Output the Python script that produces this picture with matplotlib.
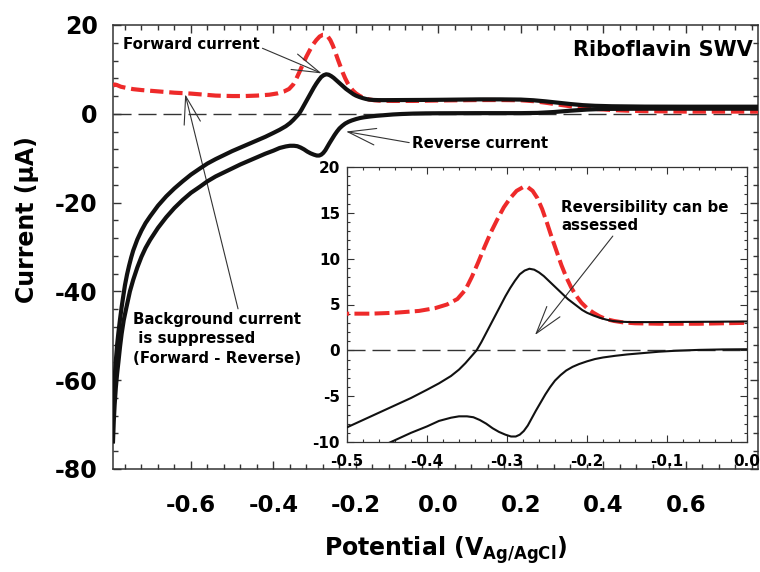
import matplotlib
matplotlib.use("Agg")
import matplotlib.pyplot as plt
from matplotlib.ticker import MultipleLocator, FormatStrFormatter

plt.rcParams['font.family'] = ['DejaVu Sans']
plt.rcParams['font.weight'] = 'bold'
plt.rcParams['axes.unicode_minus'] = False
plt.rcParams['mathtext.fontset'] = 'dejavusans'
plt.rcParams['mathtext.default'] = 'bf'

# ---- data (potential in V vs Ag/AgCl, current in uA) ----
fwd_x = [-0.789, -0.787, -0.785, -0.782, -0.779, -0.776, -0.772, -0.768, -0.764, -0.760,
         -0.755, -0.750, -0.745, -0.740, -0.730, -0.720, -0.710, -0.699, -0.680, -0.660,
         -0.640, -0.620, -0.600, -0.578, -0.560, -0.540, -0.520,
         -0.500, -0.480, -0.460, -0.440, -0.420, -0.400, -0.385, -0.370, -0.360, -0.352,
         -0.345, -0.338, -0.332, -0.326, -0.320, -0.314, -0.308, -0.302, -0.296, -0.290,
         -0.284, -0.278, -0.272, -0.266, -0.260, -0.254, -0.248, -0.242, -0.236, -0.230,
         -0.224, -0.218, -0.212, -0.206, -0.200, -0.192, -0.184, -0.176, -0.168, -0.158,
         -0.145, -0.120, -0.080, -0.040, 0.000, 0.050, 0.100, 0.150, 0.200, 0.230,
         0.260, 0.290, 0.320, 0.350, 0.380, 0.420, 0.500, 0.600, 0.780]
fwd_y = [-67.5, -63.0, -59.5, -55.5, -52.0, -49.4, -46.3, -43.5, -41.0, -38.6,
         -36.2, -34.2, -32.4, -30.8, -28.3, -26.3, -24.6, -23.1, -20.7, -18.6,
         -16.8, -15.2, -13.7, -12.3, -11.2, -10.2, -9.3,
         -8.4, -7.6, -6.8, -6.0, -5.2, -4.3, -3.6, -2.8, -2.1, -1.4,
         -0.7, 0.0, 0.9, 1.9, 2.9, 3.9, 4.9, 5.9, 6.8, 7.6,
         8.3, 8.7, 8.9, 8.8, 8.5, 8.1, 7.6, 7.1, 6.6, 6.1,
         5.6, 5.2, 4.8, 4.4, 4.1, 3.8, 3.55, 3.35, 3.2, 3.12,
         3.08, 3.08, 3.1, 3.12, 3.15, 3.2, 3.25, 3.25, 3.2, 3.05,
         2.8, 2.5, 2.2, 1.95, 1.8, 1.7, 1.62, 1.6, 1.6]

rev_x = [-0.789, -0.787, -0.785, -0.782, -0.779, -0.776, -0.772, -0.768, -0.763, -0.756,
         -0.748, -0.740, -0.730, -0.720, -0.710, -0.699, -0.680, -0.660, -0.640, -0.620,
         -0.600, -0.578, -0.560, -0.540, -0.520,
         -0.500, -0.480, -0.460, -0.440, -0.420, -0.400, -0.385, -0.370, -0.360, -0.350,
         -0.342, -0.334, -0.326, -0.318, -0.310, -0.302, -0.295, -0.289, -0.284, -0.279,
         -0.274, -0.269, -0.264, -0.258, -0.252, -0.246, -0.240, -0.233, -0.226, -0.218,
         -0.210, -0.200, -0.190, -0.180, -0.165, -0.150, -0.130, -0.110, -0.090, -0.060,
         -0.030, 0.000, 0.100, 0.200, 0.240, 0.280, 0.320, 0.360, 0.400, 0.500, 0.780]
rev_y = [-73.8, -69.0, -65.5, -61.5, -58.5, -56.0, -52.5, -49.5, -46.5, -43.4,
         -40.0, -37.4, -34.6, -32.2, -30.2, -28.4, -25.7, -23.3, -21.2, -19.4,
         -17.8, -16.4, -15.2, -14.1, -13.2,
         -12.3, -11.4, -10.6, -9.8, -9.0, -8.3, -7.7, -7.35, -7.2, -7.2,
         -7.3, -7.6, -8.0, -8.5, -8.9, -9.2, -9.4, -9.4, -9.2, -8.8,
         -8.2, -7.4, -6.6, -5.7, -4.8, -4.0, -3.3, -2.7, -2.2, -1.8,
         -1.5, -1.2, -0.95, -0.78, -0.6, -0.45, -0.3, -0.15, -0.05, 0.05,
         0.1, 0.12, 0.15, 0.15, 0.2, 0.4, 0.7, 0.95, 1.1, 1.15, 1.15]

net_x = [-0.789, -0.785, -0.780, -0.770, -0.755, -0.740, -0.720, -0.700, -0.680, -0.660,
         -0.640, -0.619, -0.600, -0.580, -0.560, -0.540, -0.520,
         -0.500, -0.470, -0.440, -0.410, -0.390, -0.375, -0.362, -0.352, -0.344, -0.336,
         -0.328, -0.320, -0.312, -0.304, -0.296, -0.288, -0.280, -0.274, -0.268, -0.262,
         -0.256, -0.250, -0.244, -0.238, -0.232, -0.226, -0.220, -0.214, -0.207, -0.200,
         -0.192, -0.184, -0.176, -0.166, -0.155, -0.140, -0.110, -0.060, 0.000, 0.050,
         0.100, 0.150, 0.200, 0.230, 0.260, 0.290, 0.320, 0.350, 0.380, 0.420,
         0.460, 0.500, 0.600, 0.780]
net_y = [6.3, 6.6, 6.5, 6.1, 5.8, 5.55, 5.35, 5.2, 5.05, 4.9,
         4.75, 4.65, 4.55, 4.4, 4.25, 4.1, 4.05,
         4.0, 4.0, 4.1, 4.3, 4.6, 5.0, 5.6, 6.6, 8.0, 9.6,
         11.3, 12.9, 14.3, 15.6, 16.6, 17.4, 17.8, 17.8, 17.4, 16.6,
         15.4, 13.9, 12.3, 10.8, 9.3, 8.0, 6.9, 6.0, 5.2, 4.6,
         4.1, 3.7, 3.4, 3.2, 3.05, 2.95, 2.9, 2.9, 3.0, 3.05,
         3.1, 3.1, 3.05, 2.85, 2.5, 2.1, 1.7, 1.35, 1.1, 0.85,
         0.7, 0.6, 0.5, 0.5]

main_xticks = [-0.6, -0.4, -0.2, 0.0, 0.2, 0.4, 0.6]
main_yticks = [-80, -60, -40, -20, 0, 20]
inset_xticks = [-0.5, -0.4, -0.3, -0.2, -0.1, 0.0]
inset_yticks = [-10, -5, 0, 5, 10, 15, 20]

BLACK = '#111111'
RED = '#EE2A2A'
GREY = '#333333'

fig = plt.figure(figsize=(7.6, 5.72), dpi=100)
ax = fig.add_axes([113/760, 1-469/572, 645/760, 444/572])

ax.axhline(0, color=GREY, lw=1.0, ls=(0, (13, 5)), zorder=1)
ax.plot(net_x, net_y, color=RED, lw=3.0, ls=(0, (3.2, 1.4)), zorder=3)
ax.plot(fwd_x, fwd_y, color=BLACK, lw=3.0, zorder=4, solid_joinstyle='round')
ax.plot(rev_x, rev_y, color=BLACK, lw=3.0, zorder=4, solid_joinstyle='round')

ax.set_xlim(-0.789, 0.775)
ax.set_ylim(-80, 20)
ax.set_xticks(main_xticks)
ax.set_yticks(main_yticks)
ax.xaxis.set_minor_locator(MultipleLocator(0.04))
ax.yaxis.set_minor_locator(MultipleLocator(4))
ax.xaxis.set_major_formatter(FormatStrFormatter('%.1f'))
ax.tick_params(which='both', direction='in', top=True, right=True, color=GREY, width=1.0)
ax.tick_params(which='major', length=6)
ax.tick_params(which='minor', length=3.5)
ax.tick_params(axis='x', which='major', labelsize=16.5, pad=18)
ax.tick_params(axis='y', which='major', labelsize=17, pad=11)
for s in ax.spines.values():
    s.set_linewidth(1.1)
    s.set_color(GREY)

ax.set_xlabel(r'Potential (V$_{Ag/AgCl}$)', fontsize=17, fontweight='bold')
ax.xaxis.set_label_coords(0.516, -0.148)
ax.xaxis.label.set_va('top')
ax.set_ylabel('Current (μA)', fontsize=17, fontweight='bold')
ax.yaxis.set_label_coords(-0.115, 0.561)

ax.text(0.763, 14.4, 'Riboflavin SWV', fontsize=15, fontweight='bold',
        ha='right', va='center')

arrow_kw = dict(arrowstyle='->,head_length=2.0,head_width=0.6', color=GREY, lw=0.8,
                mutation_scale=10, shrinkA=0, shrinkB=0)
ax.annotate('Forward current', xy=(-0.283, 9.1), xytext=(-0.765, 15.7),
            fontsize=10.8, fontweight='bold', ha='left', va='center',
            arrowprops=dict(arrow_kw, relpos=(1.0, 0.3)))
ax.annotate('Reverse current', xy=(-0.224, -4.0), xytext=(-0.064, -6.6),
            fontsize=10.8, fontweight='bold', ha='left', va='center',
            arrowprops=dict(arrow_kw, relpos=(0.0, 0.5)))
ax.annotate('Background current\n is suppressed\n(Forward - Reverse)',
            xy=(-0.614, 4.4), xytext=(-0.741, -50.7),
            fontsize=10.8, fontweight='bold', ha='left', va='center', linespacing=1.4,
            arrowprops=dict(arrow_kw, relpos=(0.63, 1.0)))

# ---- inset ----
ins = fig.add_axes([347/760, 1-442/572, 400/760, 275/572])
ins.axhline(0, color=GREY, lw=1.0, ls=(0, (13, 5)), zorder=1)
ins.plot(net_x, net_y, color=RED, lw=2.9, ls=(0, (3.7, 1.3)), zorder=3)
ins.plot(fwd_x, fwd_y, color=BLACK, lw=1.5, zorder=4, solid_joinstyle='round')
ins.plot(rev_x, rev_y, color=BLACK, lw=1.5, zorder=4, solid_joinstyle='round')
ins.set_xlim(-0.5, 0.0)
ins.set_ylim(-10, 20)
ins.set_xticks(inset_xticks)
ins.set_yticks(inset_yticks)
ins.xaxis.set_minor_locator(MultipleLocator(0.02))
ins.yaxis.set_minor_locator(MultipleLocator(1))
ins.xaxis.set_major_formatter(FormatStrFormatter('%.1f'))
ins.tick_params(which='both', direction='in', top=True, right=True, color=GREY, width=0.8)
ins.tick_params(which='major', length=5)
ins.tick_params(which='minor', length=2.5)
ins.tick_params(axis='x', which='major', labelsize=11, pad=9)
ins.tick_params(axis='y', which='major', labelsize=11, pad=5)
for s in ins.spines.values():
    s.set_linewidth(0.9)
    s.set_color(GREY)

ins.annotate('Reversibility can be\nassessed', xy=(-0.265, 1.67), xytext=(-0.232, 14.6),
             fontsize=10.8, fontweight='bold', ha='left', va='center', linespacing=1.3,
             arrowprops=dict(arrow_kw, relpos=(0.32, 0.0)))

fig.savefig('out.png', dpi=100)
